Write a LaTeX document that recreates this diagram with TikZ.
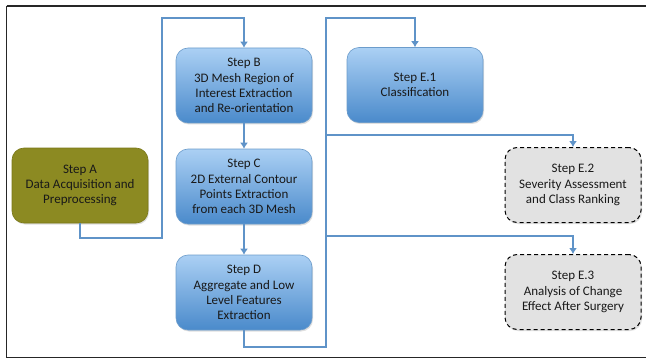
\documentclass[tikz,border=0pt]{standalone}
\usepackage{fontspec}
\setmainfont{Carlito}
\usetikzlibrary{arrows.meta,shadows}
\definecolor{conn}{HTML}{5F93C8}
\definecolor{bluetop}{HTML}{ABD0F4}
\definecolor{bluebot}{HTML}{4A8ACB}
\definecolor{blueedge}{HTML}{6C9CCB}
\definecolor{olive}{HTML}{8C8A22}
\definecolor{oliveedge}{HTML}{7A7818}
\definecolor{grayfill}{HTML}{E2E2E2}
\begin{document}
\begin{tikzpicture}[x=1pt,y=-1pt,
  box/.style={rounded corners=12pt, minimum width=136pt, minimum height=75pt,
    align=center, font=\fontsize{13}{15.2}\selectfont, inner sep=2pt, text=black!90,
    drop shadow={shadow xshift=1pt,shadow yshift=-1.5pt,opacity=0.25}},
  bluebox/.style={box, draw=blueedge, line width=0.6pt, top color=bluetop, bottom color=bluebot},
  olivebox/.style={box, draw=oliveedge, line width=0.6pt, fill=olive},
  graybox/.style={box, draw=black, dashed, dash pattern=on 4pt off 3pt, line width=1pt, fill=grayfill, drop shadow={opacity=0}},
  link/.style={draw=conn, line width=1.8pt},
  arr/.style={link, -{Latex[length=6pt,width=8pt]}}
]
\useasboundingbox (0,0) rectangle (646,361);
\fill[white] (0,0) rectangle (646,361);
\draw[black!85, line width=1.6pt] (6.5,6) -- (6.5,357.5) -- (646,357.5);
\draw[black!85, line width=1.6pt] (6.5,6) -- (646,6);

\node[olivebox] (A) at (80,185.5) {Step A\\Data Acquisition and\\Preprocessing};
\node[bluebox] (B) at (244,85.5) {Step B\\3D Mesh Region of\\Interest Extraction\\and Re-orientation};
\node[bluebox] (C) at (244,186.5) {Step C\\2D External Contour\\Points Extraction\\from each 3D Mesh};
\node[bluebox] (D) at (244,292.5) {Step D\\Aggregate and Low\\Level Features\\Extraction};
\node[bluebox] (E1) at (415,85) {Step E.1\\Classification};
\node[graybox] (E2) at (573,185) {Step E.2\\Severity Assessment\\and Class Ranking};
\node[graybox] (E3) at (573,292) {Step E.3\\Analysis of Change\\Effect After Surgery};

\coordinate (a1) at (80,238);
\coordinate (a2) at (162,238);
\coordinate (a3) at (162,18);
\coordinate (d1) at (244,347);
\coordinate (d2) at (326,347);
\coordinate (d3) at (326,18);
\coordinate (b2) at (326,135);
\coordinate (b3) at (326,236);

\draw[arr] (A.south) -- (a1) -- (a2) -- (a3) -| (B.north);
\draw[arr] (B.south) -- (C.north);
\draw[arr] (C.south) -- (D.north);
\draw[arr] (D.south) -- (d1) -- (d2) -- (d3) -| (E1.north);
\draw[arr] (b2) -| (E2.north);
\draw[arr] (b3) -| (E3.north);
\end{tikzpicture}
\end{document}
